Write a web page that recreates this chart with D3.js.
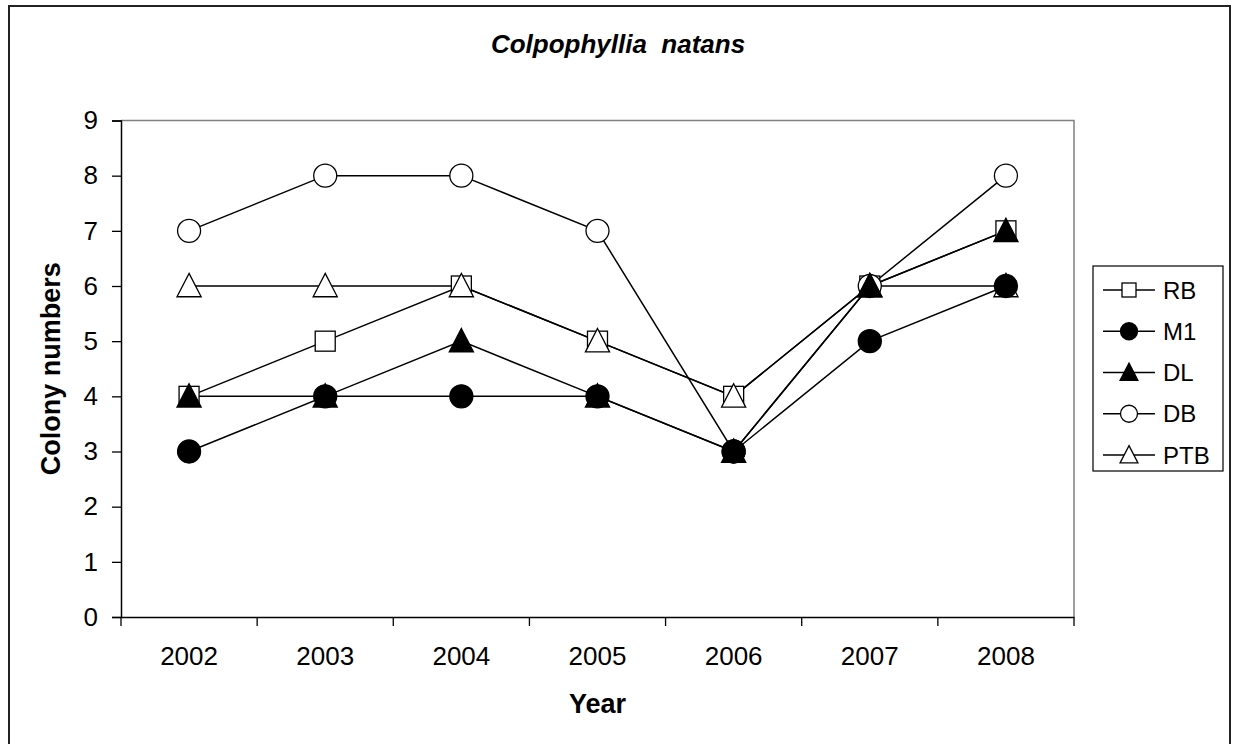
<!DOCTYPE html>
<html lang="en">
<head>
  <meta charset="UTF-8">
  <title>Colpophyllia natans</title>
  <script src="https://cdn.jsdelivr.net/npm/d3@7"></script>
  <style>
    body { margin: 0; background: #fff; overflow: hidden; }
    text { font-family: "Liberation Sans", Arial, sans-serif; fill: #000; }
  </style>
</head>
<body>
  <svg width="1235" height="744"></svg>
  <script>
    // data
    var years = ["2002", "2003", "2004", "2005", "2006", "2007", "2008"];
    var seriesNames = ["RB", "M1", "DL", "DB", "PTB"];
    var RB = [4, 5, 6, 5, 4, 6, 7];
    var M1 = [3, 4, 4, 4, 3, 5, 6];
    var DL = [4, 4, 5, 4, 3, 6, 7];
    var DB = [7, 8, 8, 7, 3, 6, 8];
    var PTB = [6, 6, 6, 5, 4, 6, 6];
    var yTicks = [0, 1, 2, 3, 4, 5, 6, 7, 8, 9];

    var series = [
      { name: "RB", values: RB, shape: "square", fill: "#fff" },
      { name: "M1", values: M1, shape: "circle", fill: "#000" },
      { name: "DL", values: DL, shape: "triangle", fill: "#000" },
      { name: "DB", values: DB, shape: "circle", fill: "#fff" },
      { name: "PTB", values: PTB, shape: "triangle", fill: "#fff" }
    ];
    // which marker ends up on top where points overlap (as in the picture)
    var markerOrder = ["RB", "DB", "PTB", "DL", "M1"];

    var svg = d3.select("svg");
    var plotL = 121, plotR = 1074, plotT = 120.5, plotB = 617;

    // outer frame
    svg.append("rect")
      .attr("x", 9).attr("y", 6).attr("width", 1221).attr("height", 760)
      .attr("fill", "none").attr("stroke", "#222").attr("stroke-width", 2);

    var x = d3.scaleBand().domain(years).range([plotL, plotR]);
    var y = d3.scaleLinear().domain([0, 9]).range([plotB, plotT]);

    // plot area border (grey top/right)
    svg.append("path")
      .attr("d", "M" + plotL + "," + plotT + "H" + plotR + "V" + plotB)
      .attr("fill", "none").attr("stroke", "#808080").attr("stroke-width", 1.5);

    // y axis
    var yAxis = svg.append("g")
      .attr("transform", "translate(" + plotL + ",0)")
      .call(d3.axisLeft(y).tickValues(yTicks).tickSize(9).tickPadding(14));
    // x axis, ticks on band boundaries
    var xAxis = svg.append("g")
      .attr("transform", "translate(0," + plotB + ")")
      .call(d3.axisBottom(x).tickSize(0).tickPadding(30));
    xAxis.selectAll(".bound").data(years.concat(["end"])).enter().append("line")
      .attr("class", "bound")
      .attr("x1", function (d, i) { return plotL + i * x.bandwidth(); })
      .attr("x2", function (d, i) { return plotL + i * x.bandwidth(); })
      .attr("y1", 0).attr("y2", 9)
      .attr("stroke", "#000").attr("stroke-width", 1.3);

    [yAxis, xAxis].forEach(function (a) {
      a.select(".domain").attr("stroke", "#000").attr("stroke-width", 1.5);
      a.selectAll(".tick line").attr("stroke", "#000").attr("stroke-width", 1.3);
      a.selectAll("text").style("font-size", "26px").attr("fill", "#000");
    });

    function cx(i) { return x(years[i]) + x.bandwidth() / 2; }

    function marker(sel, shape, size, fill) {
      if (shape === "circle") {
        sel.append("circle").attr("r", size)
          .attr("fill", fill).attr("stroke", "#000").attr("stroke-width", 1.3);
      } else if (shape === "square") {
        sel.append("rect").attr("x", -size).attr("y", -size)
          .attr("width", size * 2).attr("height", size * 2)
          .attr("fill", fill).attr("stroke", "#000").attr("stroke-width", 1.3);
      } else {
        var h = size * 1.1;
        sel.append("path")
          .attr("d", "M0," + (-h) + "L" + (size * 1.05) + "," + (h * 0.85) + "L" + (-size * 1.05) + "," + (h * 0.85) + "Z")
          .attr("fill", fill).attr("stroke", "#000").attr("stroke-width", 1.3);
      }
    }

    var line = d3.line()
      .x(function (d, i) { return cx(i); })
      .y(function (d) { return y(d); });

    // lines first, then markers
    series.forEach(function (s) {
      svg.append("path")
        .attr("d", line(s.values))
        .attr("fill", "none").attr("stroke", "#000").attr("stroke-width", 1.5);
    });
    markerOrder.forEach(function (name) {
      var s = series.find(function (d) { return d.name === name; });
      s.values.forEach(function (v, i) {
        var g = svg.append("g").attr("transform", "translate(" + cx(i) + "," + y(v) + ")");
        marker(g, s.shape, s.shape === "square" ? 10 : 11.5, s.fill);
      });
    });

    // title and axis labels
    svg.append("text")
      .attr("x", 618).attr("y", 53).attr("text-anchor", "middle")
      .style("font-size", "26px").style("font-weight", "bold").style("font-style", "italic")
      .attr("xml:space", "preserve")
      .text("Colpophyllia  natans");
    svg.append("text")
      .attr("x", (plotL + plotR) / 2).attr("y", 713).attr("text-anchor", "middle")
      .style("font-size", "27px").style("font-weight", "bold")
      .text("Year");
    svg.append("text")
      .attr("transform", "translate(60," + (plotT + plotB) / 2 + ") rotate(-90)")
      .attr("text-anchor", "middle")
      .style("font-size", "27px").style("font-weight", "bold")
      .text("Colony numbers");

    // legend
    var lg = svg.append("g");
    lg.append("rect")
      .attr("x", 1093).attr("y", 266).attr("width", 130).attr("height", 205)
      .attr("fill", "#fff").attr("stroke", "#000").attr("stroke-width", 1.2);
    var ly = d3.scalePoint().domain(seriesNames).range([290, 455]);
    series.forEach(function (s) {
      var row = lg.append("g").attr("transform", "translate(1129," + ly(s.name) + ")");
      row.append("line").attr("x1", -26).attr("x2", 26)
        .attr("stroke", "#000").attr("stroke-width", 1.5);
      marker(row, s.shape, s.shape === "square" ? 7 : 8.5, s.fill);
      row.append("text").attr("x", 34).attr("dy", "0.36em")
        .style("font-size", "24px").text(s.name);
    });
  </script>
</body>
</html>
